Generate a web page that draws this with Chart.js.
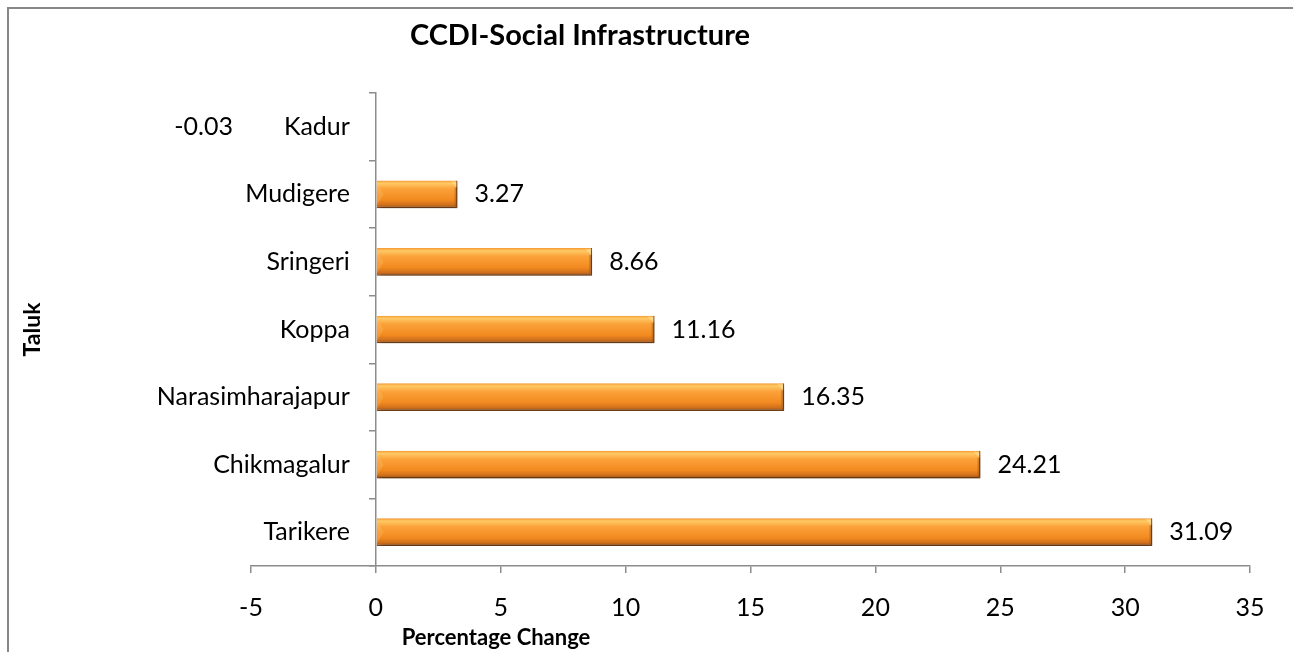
<!DOCTYPE html>
<html>
<head>
<meta charset="utf-8">
<title>CCDI-Social Infrastructure</title>
<script src="https://cdn.jsdelivr.net/npm/chart.js@4.4.1/dist/chart.umd.min.js"></script>
<style>
  html, body { margin: 0; padding: 0; background: #fff; }
  #chart { display: block; }
</style>
</head>
<body>
<canvas id="chart" width="1293" height="652"></canvas>
<script>
// Taluks, top to bottom, and their percentage change
const taluks = ['Kadur', 'Mudigere', 'Sringeri', 'Koppa', 'Narasimharajapur', 'Chikmagalur', 'Tarikere'];
const changes = [-0.03, 3.27, 8.66, 11.16, 16.35, 24.21, 31.09];
const xTicks = [-5, 0, 5, 10, 15, 20, 25, 30, 35];

const FONT = 'Lato, "Open Sans", sans-serif';
const AXIS_GRAY = '#8c8c8c';
const BAR_PCT = 0.41;
const Y_TICK_LEN = 6;
const Y_LABEL_PAD = 20;

// vertical orange gradient for each bar, built from the category scale
function barFill(context) {
  const chart = context.chart;
  const yScale = chart.scales.y;
  if (!yScale || context.dataIndex === undefined) return '#f7941d';
  const c = yScale.getPixelForValue(context.dataIndex);
  const h = (yScale.height / taluks.length) * BAR_PCT;
  if (!isFinite(c) || !isFinite(h) || h <= 0) return '#f7941d';
  const g = chart.ctx.createLinearGradient(0, c - h / 2, 0, c + h / 2);
  g.addColorStop(0, '#f59a32');
  g.addColorStop(0.1, '#ffc965');
  g.addColorStop(0.3, '#fba23a');
  g.addColorStop(0.7, '#f28a1f');
  g.addColorStop(0.88, '#d0701c');
  g.addColorStop(1, '#8f4c16');
  return g;
}

// drop shadow under the bars, plus small bevels at the bar ends
const barShadow = {
  id: 'barShadow',
  beforeDatasetsDraw(chart) {
    const ctx = chart.ctx;
    ctx.save();
    ctx.shadowColor = 'rgba(0,0,0,0.35)';
    ctx.shadowBlur = 5;
    ctx.shadowOffsetX = 2;
    ctx.shadowOffsetY = 3;
  },
  afterDatasetsDraw(chart) {
    chart.ctx.restore();
    const ctx = chart.ctx;
    const meta = chart.getDatasetMeta(0);
    meta.data.forEach(bar => {
      const left = Math.min(bar.x, bar.base);
      const right = Math.max(bar.x, bar.base);
      if (right - left < 12) return;
      const top = bar.y - bar.height / 2;
      const bottom = bar.y + bar.height / 2;
      const b = 7;
      ctx.save();
      ctx.fillStyle = 'rgba(255,230,160,0.5)';
      ctx.beginPath();
      ctx.moveTo(right - b, top + 1);
      ctx.lineTo(right - 1, top + 1);
      ctx.lineTo(right - 1, top + b);
      ctx.closePath();
      ctx.fill();
      ctx.fillStyle = 'rgba(150,75,15,0.35)';
      ctx.fillRect(right - 3, top + b, 2, bottom - top - b - 1);
      ctx.fillStyle = 'rgba(255,210,130,0.22)';
      ctx.beginPath();
      ctx.moveTo(left, top + 2);
      ctx.lineTo(left + b, bar.y);
      ctx.lineTo(left, bottom - 2);
      ctx.closePath();
      ctx.fill();
      ctx.restore();
    });
  }
};

// category names left of the zero line, and value labels next to each bar
const barLabels = {
  id: 'barLabels',
  afterDatasetsDraw(chart) {
    const ctx = chart.ctx;
    const yScale = chart.scales.y;
    const labelEnd = chart.scales.x.getPixelForValue(0) - Y_TICK_LEN - Y_LABEL_PAD;
    const meta = chart.getDatasetMeta(0);
    ctx.save();
    ctx.font = '25px ' + FONT;
    ctx.fillStyle = '#000';
    ctx.textBaseline = 'middle';
    taluks.forEach((name, i) => {
      ctx.textAlign = 'right';
      ctx.fillText(name, labelEnd, yScale.getPixelForValue(i));
    });
    meta.data.forEach((bar, i) => {
      const v = changes[i];
      const text = v.toFixed(2);
      if (v >= 0) {
        ctx.textAlign = 'left';
        ctx.fillText(text, bar.x + 17, bar.y);
      } else {
        // negative value sits left of the category name
        const nameW = ctx.measureText(taluks[i]).width;
        ctx.textAlign = 'right';
        ctx.fillText(text, labelEnd - nameW - 51, bar.y);
      }
    });
    ctx.restore();
  }
};

// frame, title and axis titles
const frameAndTitles = {
  id: 'frameAndTitles',
  afterDraw(chart) {
    const ctx = chart.ctx;
    const area = chart.chartArea;
    ctx.save();
    ctx.strokeStyle = '#878787';
    ctx.lineWidth = 2;
    ctx.strokeRect(8, 8, chart.width + 20, chart.height + 20);

    ctx.fillStyle = '#000';
    ctx.textAlign = 'center';
    ctx.textBaseline = 'middle';
    ctx.font = 'bold 29px ' + FONT;
    ctx.fillText('CCDI-Social Infrastructure', 580, 36);

    ctx.font = 'bold 22px ' + FONT;
    ctx.fillText('Percentage Change', 496, 638);

    ctx.translate(33, (area.top + area.bottom) / 2);
    ctx.rotate(-Math.PI / 2);
    ctx.font = 'bold 23px ' + FONT;
    ctx.fillText('Taluk', 0, 0);
    ctx.restore();
  }
};

new Chart(document.getElementById('chart'), {
  type: 'bar',
  data: {
    labels: taluks,
    datasets: [{
      label: 'Percentage Change',
      data: changes,
      backgroundColor: barFill,
      borderColor: '#8f4c16',
      borderWidth: { top: 0, right: 1.5, bottom: 1.5, left: 0 },
      borderSkipped: false,
      barPercentage: BAR_PCT,
      categoryPercentage: 1
    }]
  },
  options: {
    indexAxis: 'y',
    responsive: false,
    animation: false,
    devicePixelRatio: 1,
    layout: {
      padding: { left: 251, right: 43, top: 93, bottom: 9 }
    },
    plugins: {
      legend: { display: false },
      title: { display: false },
      tooltip: { enabled: false }
    },
    scales: {
      x: {
        type: 'linear',
        min: -5,
        max: 35,
        afterBuildTicks(scale) {
          scale.ticks = xTicks.map(v => ({ value: v }));
        },
        ticks: {
          color: '#000',
          font: { family: FONT, size: 25 },
          padding: 20,
          maxRotation: 0
        },
        grid: {
          drawOnChartArea: false,
          drawTicks: true,
          tickLength: 7,
          color: AXIS_GRAY,
          lineWidth: 1.5
        },
        border: { display: true, color: AXIS_GRAY, width: 1.5 }
      },
      y: {
        position: { x: 0 },
        offset: true,
        ticks: { display: false },
        grid: {
          offset: true,
          drawOnChartArea: false,
          drawTicks: true,
          tickLength: Y_TICK_LEN,
          color: AXIS_GRAY,
          lineWidth: 1.5
        },
        border: { display: true, color: AXIS_GRAY, width: 1.5 }
      }
    }
  },
  plugins: [barShadow, barLabels, frameAndTitles]
});
</script>
</body>
</html>
